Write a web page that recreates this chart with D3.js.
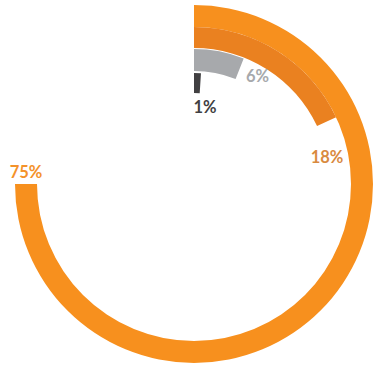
<!DOCTYPE html>
<html>
<head>
<meta charset="utf-8">
<script src="https://cdn.jsdelivr.net/npm/d3@7"></script>
<style>
  html, body { margin: 0; padding: 0; background: #ffffff; }
  svg { display: block; }
</style>
</head>
<body>
<svg id="chart" width="376" height="367"></svg>
<script>
// ---- data ----
const categories = ["A", "B", "C", "D"];
const values = [75, 18, 6, 1];
const labels = ["75%", "18%", "6%", "1%"];

// ---- styles / layout ----
const colors = ["#F7901E", "#EA8120", "#A7A9AC", "#414042"];
const labelColors = ["#F4922A", "#D98A3F", "#A7A9AC", "#414042"];
const rings = [[157, 179], [136, 157], [113, 135], [91, 111]];
// label offsets relative to centre (dx, dy of text baseline), with anchor
const labelPos = [[-168, -6, "middle"], [133, -21, "middle"], [52, -102, "start"], [11, -71, "middle"]];

const W = 376, H = 367, cx = 194, cy = 184;
const svg = d3.select("#chart");
const g = svg.append("g").attr("transform", `translate(${cx},${cy})`);

const angle = d3.scaleLinear().domain([0, 100]).range([0, 2 * Math.PI]);

const data = categories.map((c, i) => ({
  cat: c, value: values[i], label: labels[i],
  inner: rings[i][0], outer: rings[i][1],
  color: colors[i], labelColor: labelColors[i], lp: labelPos[i]
}));

const arc = d3.arc()
  .innerRadius(d => d.inner)
  .outerRadius(d => d.outer)
  .startAngle(0)
  .endAngle(d => angle(d.value));

g.selectAll("path.ring")
  .data(data)
  .join("path")
  .attr("class", "ring")
  .attr("d", arc)
  .attr("fill", d => d.color);

g.selectAll("text.lbl")
  .data(data)
  .join("text")
  .attr("class", "lbl")
  .attr("x", d => d.lp[0])
  .attr("y", d => d.lp[1])
  .attr("text-anchor", d => d.lp[2])
  .attr("font-family", "Lato, 'Open Sans', sans-serif")
  .attr("font-weight", "bold")
  .attr("font-size", 16.5)
  .attr("fill", d => d.labelColor)
  .text(d => d.label);
</script>
</body>
</html>
